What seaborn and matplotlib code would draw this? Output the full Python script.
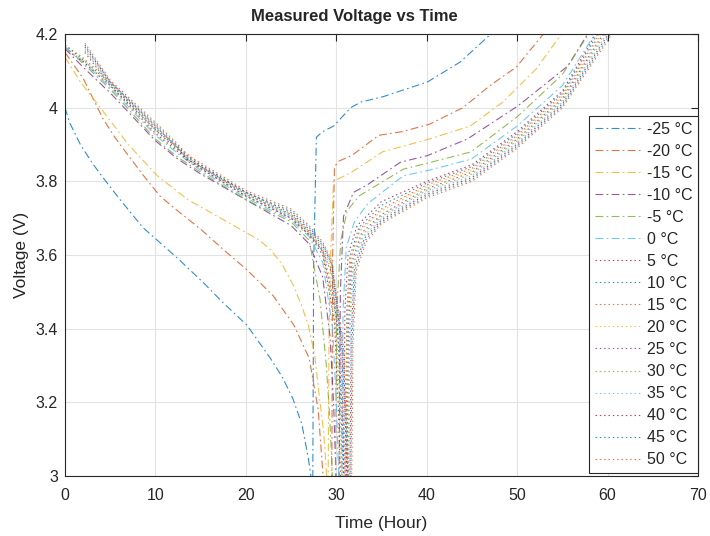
import numpy as np
import pandas as pd
import matplotlib
matplotlib.use("Agg")
import matplotlib.pyplot as plt
import seaborn as sns

# temperatures (legend order)
temps = [-25, -20, -15, -10, -5, 0, 5, 10, 15, 20, 25, 30, 35, 40, 45, 50]

# each curve: discharge down to 3 V, then charge back up to 4.2 V
t_n25 = [0, 0.5, 1, 1.7, 3, 4.2, 6.1, 8.6, 10.2, 12.5, 15.3, 17.5, 20.1, 22.7, 24, 25.2, 26.2,
         26.9, 27.3,
         27.4, 27.5, 27.8, 28.5, 29.7, 31.6, 32.7, 35.2, 40.1, 43.7, 47.1]
v_n25 = [4.0, 3.96, 3.935, 3.9, 3.85, 3.81, 3.75, 3.675, 3.64, 3.59, 3.525, 3.47, 3.41, 3.32, 3.27,
         3.21, 3.14, 3.05, 2.98,
         2.98, 3.58, 3.92, 3.935, 3.95, 4.0, 4.015, 4.03, 4.07, 4.124, 4.2]

t_n20 = [0, 1, 2, 3, 4.2, 5.5, 7, 8.7, 10.5, 12.7, 15, 17.5, 20.1, 23, 25.3, 27, 28, 28.6,
         29.5, 29.6, 29.8, 30.3, 31.7, 34.7, 37.3, 40.3, 44.0, 47.0, 49.9, 52.9]
v_n20 = [4.15, 4.115, 4.08, 4.03, 3.97, 3.92, 3.87, 3.815, 3.76, 3.715, 3.67, 3.615, 3.56, 3.49,
         3.41, 3.32, 3.18, 2.98,
         2.98, 3.6, 3.84, 3.855, 3.87, 3.925, 3.935, 3.955, 4.0, 4.06, 4.11, 4.2]

t_n15 = [0, 1.7, 3.9, 7, 10.2, 13.6, 16.5, 20.1, 21.5, 22.7, 24, 25.3, 26.2, 26.9, 27.6, 28.2,
         28.6, 29.0,
         29.1, 29.2, 29.4, 29.7, 31.7, 35.1, 40.3, 44.8, 48.4, 52.1, 54.9]
v_n15 = [4.137, 4.07, 4.0, 3.9, 3.815, 3.75, 3.71, 3.66, 3.64, 3.615, 3.575, 3.515, 3.46, 3.41,
         3.33, 3.2, 3.12, 2.98,
         2.98, 3.4, 3.62, 3.8, 3.825, 3.88, 3.915, 3.95, 4.015, 4.105, 4.2]

t_n10 = [0, 2, 5, 10, 12.5, 15, 20, 25, 27, 28.5, 29.3, 29.7, 30.0,
         30.3, 30.45, 30.8, 31.9, 33.4, 37.1, 40.1, 44.5, 50.1, 55.6, 57.8]
v_n10 = [4.16, 4.11, 4.04, 3.91, 3.86, 3.82, 3.75, 3.68, 3.63, 3.54, 3.38, 3.2, 2.98,
         2.98, 3.5, 3.705, 3.77, 3.79, 3.852, 3.87, 3.915, 4.005, 4.113, 4.2]

t_n05 = [0, 2, 5, 10, 12.5, 15, 20, 25, 27, 28.2, 28.9, 29.3, 29.6,
         29.9, 30.05, 30.5, 31.2, 32.5, 37.4, 40.2, 44.9, 50.0, 55.0, 57.9]
v_n05 = [4.165, 4.12, 4.05, 3.915, 3.865, 3.825, 3.75, 3.69, 3.64, 3.48, 3.3, 3.15, 2.98,
         2.98, 3.45, 3.64, 3.72, 3.76, 3.833, 3.85, 3.88, 3.975, 4.09, 4.2]

t_p00 = [0, 2, 5, 10, 12.5, 15, 20, 25, 27, 28.5, 29.6, 30.0, 30.3,
         30.6, 30.75, 31.1, 32.0, 33.5, 37.4, 40.2, 44.9, 50.0, 55.0, 58.6]
v_p00 = [4.165, 4.125, 4.055, 3.925, 3.875, 3.83, 3.755, 3.695, 3.65, 3.58, 3.4, 3.2, 2.98,
         2.98, 3.45, 3.62, 3.69, 3.74, 3.815, 3.83, 3.86, 3.95, 4.06, 4.2]

t_p05 = [0, 2, 5, 10, 12.5, 15, 20, 25, 27, 28.5, 29.8, 30.2, 30.5,
         30.8, 30.95, 31.3, 32.3, 35, 40, 45, 50, 55, 58.7]
v_p05 = [4.16, 4.125, 4.06, 3.93, 3.88, 3.835, 3.76, 3.70, 3.655, 3.6, 3.42, 3.2, 2.98,
         2.98, 3.45, 3.6, 3.68, 3.745, 3.80, 3.845, 3.935, 4.045, 4.2]

t_p10 = [0, 2, 5, 10, 12.5, 15, 20, 25, 27, 28.5, 30.1, 30.5, 30.8,
         31.0, 31.15, 31.5, 32.5, 35, 40, 45, 50, 55, 58.9]
v_p10 = [4.17, 4.13, 4.065, 3.94, 3.89, 3.84, 3.765, 3.705, 3.66, 3.61, 3.42, 3.2, 2.98,
         2.98, 3.44, 3.595, 3.675, 3.735, 3.795, 3.84, 3.93, 4.04, 4.2]

t_p15 = [0, 2, 5, 10, 12.5, 15, 20, 25, 27, 28.5, 30.3, 30.7, 31.0,
         31.1, 31.25, 31.6, 32.6, 35, 40, 45, 50, 55, 59.1]
v_p15 = [4.17, 4.135, 4.07, 3.945, 3.895, 3.845, 3.77, 3.71, 3.665, 3.615, 3.42, 3.2, 2.98,
         2.98, 3.43, 3.59, 3.67, 3.725, 3.79, 3.835, 3.925, 4.035, 4.2]

t_p20 = [0, 2, 5, 10, 12.5, 15, 20, 25, 27, 28.5, 29.9, 30.3, 30.6,
         31.0, 31.15, 31.5, 32.6, 35, 40, 45, 50, 55, 59.3]
v_p20 = [4.16, 4.13, 4.06, 3.935, 3.885, 3.84, 3.76, 3.705, 3.66, 3.61, 3.4, 3.2, 2.98,
         2.98, 3.42, 3.585, 3.665, 3.72, 3.785, 3.83, 3.92, 4.03, 4.2]

t_p25 = [2.2, 5, 10, 12.5, 13.5, 15, 20, 25, 27, 28.5, 29.5, 30.3, 30.65, 30.9,
         31.2, 31.35, 31.7, 32.8, 35, 40, 45, 50, 55, 59.5]
v_p25 = [4.15, 4.06, 3.94, 3.885, 3.855, 3.835, 3.76, 3.70, 3.655, 3.61, 3.55, 3.35, 3.18, 2.98,
         2.98, 3.41, 3.58, 3.66, 3.71, 3.78, 3.825, 3.915, 4.025, 4.2]

t_p30 = [2.2, 5, 10, 12.5, 13.5, 15, 20, 25, 27, 28.5, 29.5, 30.1, 30.45, 30.7,
         31.3, 31.45, 31.8, 32.9, 35, 40, 45, 50, 55, 59.7]
v_p30 = [4.155, 4.065, 3.945, 3.89, 3.86, 3.84, 3.765, 3.71, 3.66, 3.615, 3.56, 3.35, 3.18, 2.98,
         2.98, 3.4, 3.575, 3.655, 3.705, 3.775, 3.82, 3.91, 4.02, 4.2]

t_p35 = [2.2, 5, 10, 12.5, 13.5, 15, 20, 25, 27, 28.5, 29.5, 30.5, 30.85, 31.1,
         31.4, 31.55, 31.9, 33.0, 35, 40, 45, 50, 55, 59.9]
v_p35 = [4.16, 4.065, 3.95, 3.89, 3.86, 3.84, 3.765, 3.71, 3.665, 3.62, 3.57, 3.35, 3.18, 2.98,
         2.98, 3.39, 3.57, 3.65, 3.70, 3.77, 3.815, 3.905, 4.015, 4.2]

t_p40 = [2.2, 5, 10, 12.5, 13.5, 15, 20, 25, 27, 28.5, 29.5, 30.6, 30.95, 31.2,
         31.5, 31.65, 32.0, 33.1, 35, 40, 45, 50, 55, 60.1]
v_p40 = [4.165, 4.07, 3.95, 3.89, 3.86, 3.84, 3.77, 3.715, 3.67, 3.625, 3.575, 3.35, 3.18, 2.98,
         2.98, 3.38, 3.565, 3.645, 3.695, 3.765, 3.81, 3.90, 4.01, 4.2]

t_p45 = [2.2, 5, 10, 12.5, 13.5, 15, 20, 25, 27, 28.5, 29.5, 30.7, 31.05, 31.3,
         31.6, 31.75, 32.1, 33.2, 35, 40, 45, 50, 55, 60.3]
v_p45 = [4.17, 4.07, 3.955, 3.895, 3.865, 3.845, 3.77, 3.72, 3.675, 3.63, 3.58, 3.35, 3.18, 2.98,
         2.98, 3.37, 3.56, 3.64, 3.69, 3.76, 3.805, 3.895, 4.005, 4.2]

t_p50 = [2.2, 5, 10, 12.5, 13.5, 15, 20, 25, 27, 28.5, 29.5, 30.8, 31.15, 31.4,
         31.7, 31.85, 32.2, 33.3, 35, 40, 45, 50, 55, 60.5]
v_p50 = [4.175, 4.075, 3.96, 3.9, 3.87, 3.85, 3.775, 3.725, 3.68, 3.635, 3.585, 3.35, 3.18, 2.98,
         2.98, 3.36, 3.555, 3.635, 3.685, 3.755, 3.80, 3.89, 4.0, 4.2]

times = [t_n25, t_n20, t_n15, t_n10, t_n05, t_p00, t_p05, t_p10,
         t_p15, t_p20, t_p25, t_p30, t_p35, t_p40, t_p45, t_p50]
volts = [v_n25, v_n20, v_n15, v_n10, v_n05, v_p00, v_p05, v_p10,
         v_p15, v_p20, v_p25, v_p30, v_p35, v_p40, v_p45, v_p50]

rows = []
for temp, tt, vv in zip(temps, times, volts):
    for a, b in zip(tt, vv):
        rows.append((f"{temp} \u00b0C", a, b))
df = pd.DataFrame(rows, columns=["label", "time", "voltage"])

matlab = ["#0072BD", "#D95319", "#EDB120", "#7E2F8E", "#77AC30", "#4DBEEE", "#A2142F"]

sns.set_style("white")
plt.rcParams["font.family"] = ["Liberation Sans", "DejaVu Sans"]

fig = plt.figure(figsize=(7.1, 5.36), dpi=100)
ax = fig.add_axes([65 / 710, 60 / 536, 633 / 710, 442 / 536])

handles = []
for i, temp in enumerate(temps):
    lab = f"{temp} \u00b0C"
    sub = df[df["label"] == lab]
    dash = (7, 3, 1.5, 3) if i < 6 else (1.3, 2.6)
    sns.lineplot(data=sub, x="time", y="voltage", ax=ax, sort=False, estimator=None,
                 color=matlab[i % 7], lw=0.8, alpha=0.8, legend=False)
    ln = ax.lines[-1]
    ln.set_dashes(dash)
    ln.set_label(lab)
    handles.append(ln)

ax.set_xlim(0, 70)
ax.set_ylim(3, 4.2)
ax.set_xticks(np.arange(0, 71, 10))
ax.set_yticks([3, 3.2, 3.4, 3.6, 3.8, 4, 4.2])
ax.set_yticklabels(["3", "3.2", "3.4", "3.6", "3.8", "4", "4.2"])
ax.grid(True, color="#e3e3e3", lw=0.8)
ax.set_axisbelow(True)
for s in ax.spines.values():
    s.set_color("#262626")
    s.set_linewidth(0.8)
ax.tick_params(direction="in", length=5, width=0.8, top=True, right=True,
               labelsize=11.5, colors="#262626")
ax.tick_params(axis="x", pad=9)
ax.tick_params(axis="y", pad=5)

ax.set_title("Measured Voltage vs Time", fontsize=12, fontweight="bold", pad=9, x=0.457)
ax.set_xlabel("Time (Hour)", fontsize=12.5, color="#262626", labelpad=9)
ax.set_ylabel("Voltage (V)", fontsize=12.5, color="#262626", labelpad=5)

leg = ax.legend(handles=handles, loc="upper right", bbox_to_anchor=(1.0, 0.814), borderaxespad=0,
                fontsize=11.5, handlelength=2.9, handletextpad=0.35, labelspacing=0.44,
                frameon=True, fancybox=False, edgecolor="#262626", framealpha=1,
                borderpad=0.35)
leg.get_frame().set_linewidth(0.8)

fig.savefig("out.png", dpi=100)
